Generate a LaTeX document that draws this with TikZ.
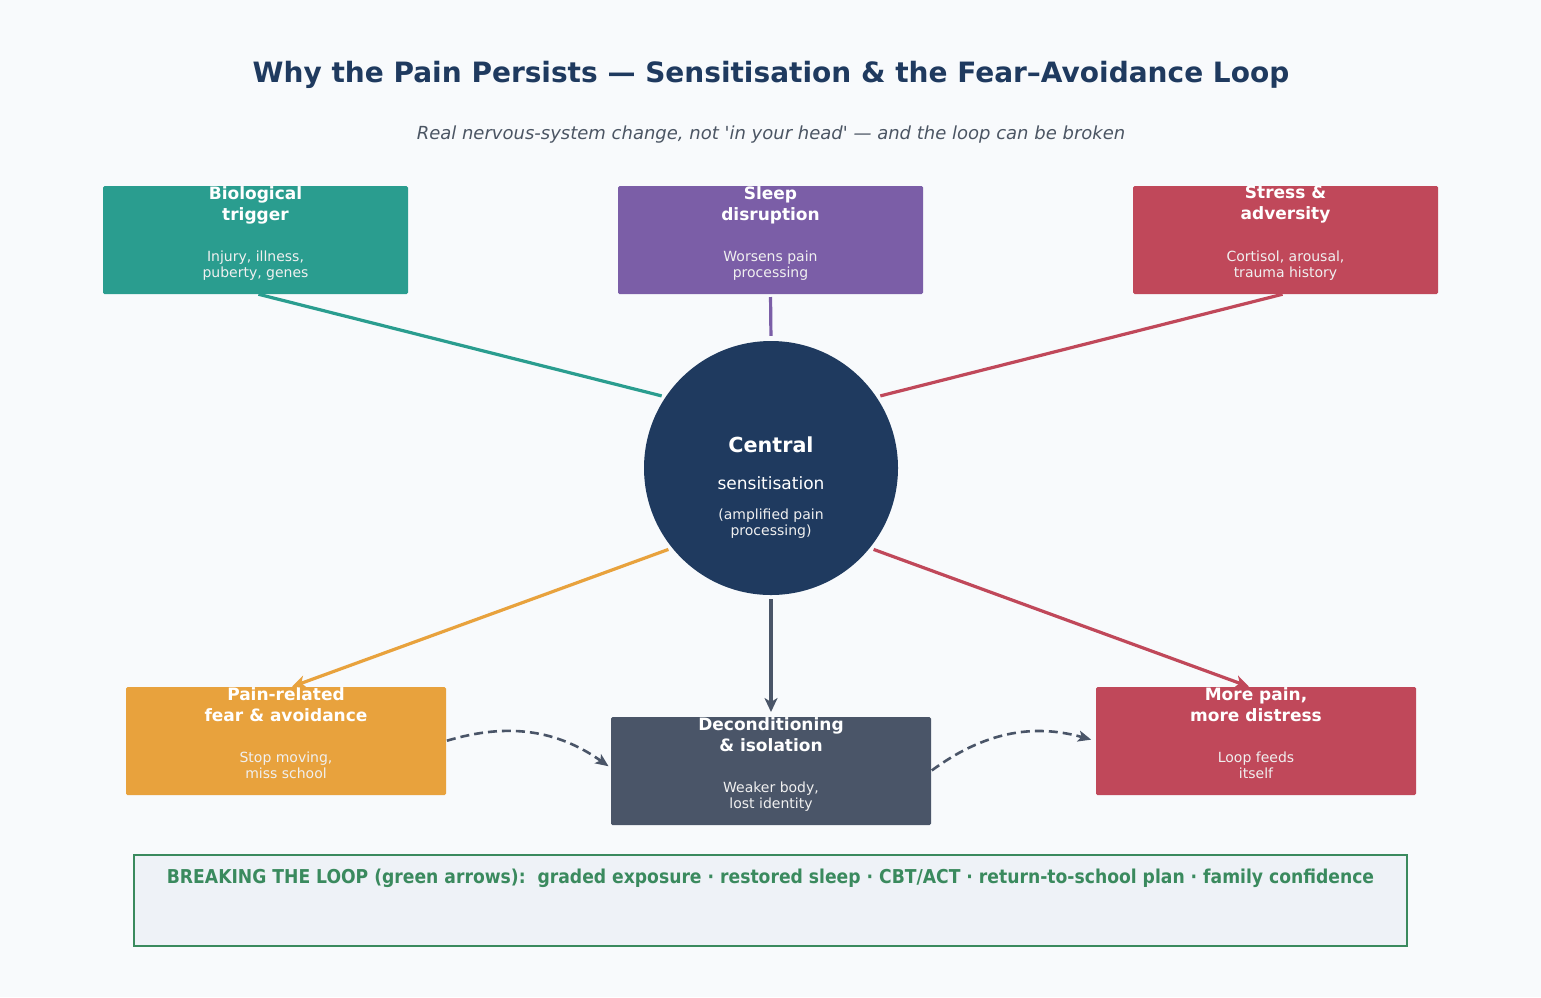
\documentclass[tikz,border=0pt]{standalone}
\usepackage{fontspec}
\setmainfont{DejaVu Sans}
\newfontfamily\condfont{DejaVu Sans Condensed}
\usetikzlibrary{arrows.meta,calc}
\definecolor{bgc}{HTML}{F8FAFC}
\definecolor{navy}{HTML}{1F3A5F}
\definecolor{subgray}{HTML}{4B5563}
\definecolor{teal}{HTML}{2A9D8F}
\definecolor{purp}{HTML}{7B5EA7}
\definecolor{redc}{HTML}{C0485A}
\definecolor{orng}{HTML}{E8A23D}
\definecolor{slate}{HTML}{4A5568}
\definecolor{grn}{HTML}{3A8A5E}
\definecolor{bannerbg}{HTML}{EEF2F7}
\tikzset{
  box/.style={draw=none, rounded corners=1.5pt, minimum width=305pt, minimum height=108pt, inner sep=0pt, outer sep=0pt},
  wbox/.style={box, minimum width=320pt},
  ttl/.style={text=white, font=\fontsize{17}{21}\selectfont\bfseries, align=center, anchor=north, inner sep=0pt},
  sub/.style={text=white!94!black, font=\fontsize{14}{16}\selectfont, align=center, anchor=north, inner sep=0pt},
  link/.style={line width=3.2pt},
  arr/.style={line width=3.2pt, -{Stealth[length=14pt,width=13pt,inset=4pt]}},
  dsh/.style={line width=2.6pt, draw=slate, dash pattern=on 9pt off 5pt, -{Stealth[length=13pt,width=11pt,inset=3pt]}},
}
\begin{document}
\begin{tikzpicture}[x=1pt,y=-1pt]
\fill[bgc] (0,0) rectangle (1541,997);
\useasboundingbox (0,0) rectangle (1541,997);
\node[text=navy, font=\fontsize{28}{32}\selectfont\bfseries] (title) at (771,75) {Why the Pain Persists — Sensitisation \& the Fear–Avoidance Loop};
\node[text=subgray, font=\fontsize{18}{22}\selectfont\itshape] (subtitle) at (771,135) {Real nervous-system change, not \textquotesingle in your head\textquotesingle{} — and the loop can be broken};
% top boxes
\node[box, fill=teal] (bio) at (255.5,240) {};
\node[ttl] (biot) at (255.5,186) {Biological\\trigger};
\node[sub] (bios) at (255.5,251) {Injury, illness,\\puberty, genes};
\node[box, fill=purp] (slp) at (770.5,240) {};
\node[ttl] (slpt) at (770.5,186) {Sleep\\disruption};
\node[sub] (slps) at (770.5,251) {Worsens pain\\processing};
\node[box, fill=redc] (str) at (1285.5,240) {};
\node[ttl] (strt) at (1285.5,186) {Stress \&\\adversity};
\node[sub] (strs) at (1285.5,251) {Cortisol, arousal,\\trauma history};
% circle
\node[circle, fill=navy, minimum size=254pt, inner sep=0pt] (c) at (771,468) {};
\node[text=white, font=\fontsize{20.7}{24}\selectfont\bfseries] (ct) at (771,445) {Central};
\node[text=white, font=\fontsize{17}{20}\selectfont] (cs) at (771,483) {sensitisation};
\node[text=white!94!black, font=\fontsize{14}{16}\selectfont, align=center] (cp) at (771,524) {(amplified pain\\processing)};
% bottom boxes
\node[wbox, fill=orng] (fear) at (286,741) {};
\node[ttl] (feart) at (286,687) {Pain-related\\fear \& avoidance};
\node[sub] (fears) at (286,752) {Stop moving,\\miss school};
\node[wbox, fill=slate] (dec) at (771,771) {};
\node[ttl] (dect) at (771,717) {Deconditioning\\\& isolation};
\node[sub] (decs) at (771,782) {Weaker body,\\lost identity};
\node[wbox, fill=redc] (more) at (1256,741) {};
\node[ttl] (moret) at (1256,687) {More pain,\\more distress};
\node[sub] (mores) at (1256,752) {Loop feeds\\itself};
% top links
\draw[link, teal, shorten <=1pt, shorten >=4pt] ($(bio.south)+(2,0)$) -- (c.146);
\draw[link, purp, shorten <=3pt, shorten >=5pt] (slp.south) -- (c.north);
\draw[link, redc, shorten <=1pt, shorten >=4pt] ($(str.south)+(-2,0)$) -- (c.34);
% bottom arrows
\draw[arr, orng, shorten <=4pt, shorten >=1pt] (c.219) -- ($(fear.north)+(5,0)$);
\draw[arr, slate, shorten <=4pt, shorten >=5pt] (c.south) -- (dec.north);
\draw[arr, redc, shorten <=4pt, shorten >=1pt] (c.321) -- ($(more.north)+(-6,0)$);
% dashed loop arrows
\draw[dsh, shorten <=1pt, shorten >=3pt] (fear.east) to[bend left=26] ($(dec.west)+(0,-3)$);
\draw[dsh, shorten <=1pt, shorten >=5pt] (dec.east) to[bend left=26] (more.west);
% banner
\draw[draw=grn, fill=bannerbg, line width=2pt] (134,855) rectangle (1407,946);
\node[text=grn, font=\fontsize{19.1}{22}\condfont\bfseries] (banner) at (770.5,878) {BREAKING THE LOOP (green arrows):\ \ graded exposure · restored sleep · CBT/ACT · return-to-school plan · family confidence};
\end{tikzpicture}
\end{document}
